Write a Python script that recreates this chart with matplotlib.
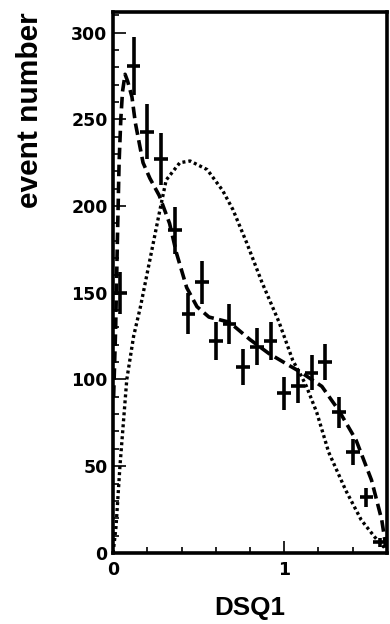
import numpy as np
import matplotlib.pyplot as plt
from matplotlib.ticker import MultipleLocator

plt.rcParams["font.family"] = ["Liberation Sans", "DejaVu Sans"]
plt.rcParams["font.weight"] = "bold"

# measured histogram (bin centres, counts)
bin_centers = [0.04, 0.12, 0.20, 0.28, 0.36, 0.44, 0.52, 0.60, 0.68, 0.76,
               0.84, 0.92, 1.00, 1.08, 1.16, 1.24, 1.32, 1.40, 1.48, 1.56]
counts = [150, 281, 243, 227, 186, 138, 156, 122, 132, 107,
          119, 122, 92, 96, 104, 110, 81, 58, 32, 6]
bin_half = 0.04

# fit curve (dashed)
fit_x = [0.003, 0.015, 0.025, 0.035, 0.045, 0.055, 0.07, 0.085, 0.11, 0.13,
         0.175, 0.215, 0.27, 0.33, 0.37, 0.43, 0.49, 0.56, 0.68, 0.80,
         0.91, 1.03, 1.10, 1.22, 1.32, 1.42, 1.51, 1.57, 1.595]
fit_y = [90, 130, 180, 225, 250, 266, 276, 272, 263, 248,
         225, 216, 206, 190, 173, 153, 142, 136, 133, 123,
         115, 108, 104, 96, 82, 65, 42, 19, 3]

# model curve (dotted)
model_x = [0.0, 0.017, 0.04, 0.08, 0.12, 0.16, 0.215, 0.27, 0.31, 0.39,
           0.45, 0.55, 0.64, 0.70, 0.78, 0.87, 0.97, 1.05, 1.10, 1.13,
           1.19, 1.26, 1.36, 1.45, 1.53, 1.595]
model_y = [0, 15, 50, 100, 125, 142, 169, 196, 215, 225,
           226, 221, 209, 198, 179, 156, 133, 111, 102, 96,
           81, 58, 36, 19, 9, 2]

fig = plt.figure(figsize=(3.9, 6.24), dpi=100)
ax = fig.add_axes([0.290, 0.114, 0.702, 0.867])

ax.errorbar(bin_centers, counts, xerr=bin_half, yerr=np.sqrt(counts),
            fmt="none", ecolor="black", elinewidth=2.6, capsize=0)
ax.plot(fit_x, fit_y, color="black", lw=2.6, linestyle=(0, (3.2, 1.5)))
ax.plot(model_x, model_y, color="black", lw=2.4, linestyle=(0, (0.9, 0.9)),
        dash_capstyle="butt")

ax.set_xlim(0, 1.6)
ax.set_ylim(0, 312)
ax.xaxis.set_major_locator(MultipleLocator(1))
ax.xaxis.set_minor_locator(MultipleLocator(0.2))
ax.yaxis.set_major_locator(MultipleLocator(50))
ax.yaxis.set_minor_locator(MultipleLocator(10))
ax.tick_params(which="both", direction="in", top=False, right=False, width=1.2)
ax.tick_params(which="major", length=9)
ax.tick_params(which="minor", length=4.5)
ax.tick_params(axis="x", pad=6)
ax.tick_params(axis="y", pad=4)
for lbl in ax.get_xticklabels() + ax.get_yticklabels():
    lbl.set_fontfamily("DejaVu Sans")
    lbl.set_fontsize(12.5)
    lbl.set_fontweight("bold")
for s in ax.spines.values():
    s.set_linewidth(2.6)

ax.set_xlabel("DSQ1", fontsize=18.7, fontweight="bold", labelpad=12)
ax.set_ylabel("event number", fontsize=21.5, fontweight="bold")
ax.yaxis.set_label_coords(-0.252, 1.0)
ax.yaxis.label.set_horizontalalignment("right")

fig.savefig("out.png", dpi=100)
plt.close(fig)
